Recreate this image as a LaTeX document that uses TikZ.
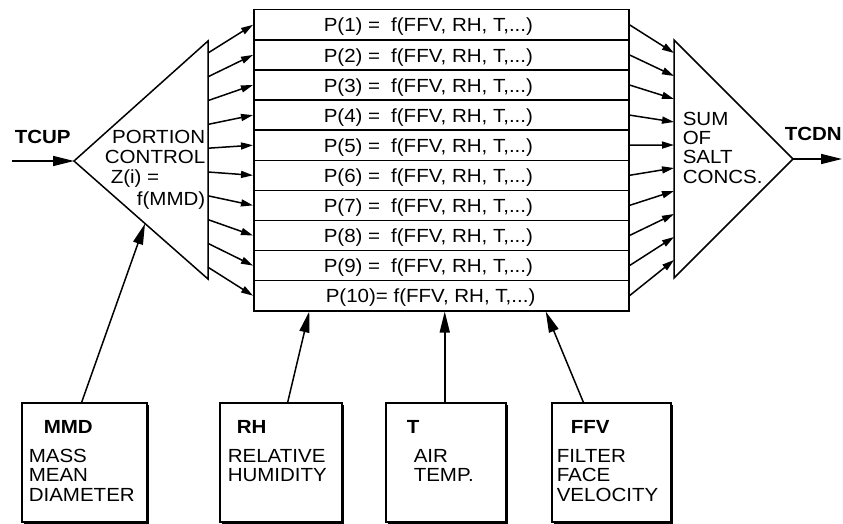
\documentclass[tikz,border=0pt]{standalone}
\usepackage{fontspec}
\setmainfont{Liberation Sans}[FakeStretch=1.08]
\usetikzlibrary{arrows.meta,calc,shadows}
\begin{document}
\begin{tikzpicture}[x=1pt,y=-1pt,line width=1.5pt,line join=miter,
  bigarrow/.style={-{Triangle[length=21pt,width=10pt]}},
  smallarrow/.style={-{Triangle[length=12pt,width=7pt]}},
  rowbox/.style={draw,minimum width=375pt,minimum height=30.1pt,inner sep=0pt,anchor=north west},
  lbl/.style={font=\fontsize{19}{20}\selectfont,inner sep=0pt},
  blbl/.style={font=\fontsize{19}{20}\selectfont\bfseries,inner sep=0pt},
  inbox/.style={draw,fill=white,minimum height=119pt,inner sep=0pt,anchor=north west,
    drop shadow={shadow xshift=2.5pt,shadow yshift=-2.5pt,fill=black,opacity=1}}]
\useasboundingbox (0,0) rectangle (843,524);

% central stack of rows
\foreach \i in {1,...,10}{
  \pgfmathsetmacro\yy{9+30.1*(\i-1)}
  \node[rowbox] (r\i) at (253,\yy) {};
}
\foreach \i in {1,...,9}{
  \pgfmathsetmacro\yb{9+23+30.1*(\i-1)}
  \node[lbl,anchor=base west] (p\i) at (323,\yb) {P(\i) =\hspace{11pt}f(FFV, RH, T,...)};
}
\node[lbl,anchor=base west] (p10) at (325,{9+23+30.1*9}) {P(10)= f(FFV, RH, T,...)};

% left triangle
\coordinate (la) at (74,161);
\coordinate (lt) at (208,41);
\coordinate (lb) at (208,279);
\draw (la) -- (lt) -- (lb) -- cycle;
\node[lbl,anchor=base east] (lp1) at (206,143) {PORTION};
\node[lbl,anchor=base east] (lp2) at (206,163) {CONTROL};
\node[lbl,anchor=base west] (lp3) at (110,183) {Z(i) =};
\node[lbl,anchor=base east] (lp4) at (206,205) {f(MMD)};

% right triangle
\coordinate (rt) at (674,40);
\coordinate (rb) at (674,278);
\coordinate (ra) at (793,159);
\draw (rt) -- (ra) -- (rb) -- cycle;
\node[lbl,anchor=base west] (rs1) at (682,126) {SUM};
\node[lbl,anchor=base west] (rs2) at (682,145) {OF};
\node[lbl,anchor=base west] (rs3) at (682,164) {SALT};
\node[lbl,anchor=base west] (rs4) at (682,183) {CONCS.};

% fan arrows
\foreach \i in {1,...,10}{
  \coordinate (ls\i) at (208,{53+23.8*(\i-1)});
  \draw[smallarrow] (ls\i) -- (r\i.west);
  \coordinate (re\i) at (674,{53+23*(\i-1)});
  \draw[smallarrow] (r\i.east) -- (re\i);
}

% TCUP / TCDN
\node[blbl,anchor=base west] (tcup) at (14,143) {TCUP};
\coordinate (tcupstart) at (12,161);
\draw[bigarrow] (tcupstart) -- (la);
\node[blbl,anchor=base west] (tcdn) at (784,140) {TCDN};
\coordinate (tcdnend) at (842,159);
\draw[bigarrow] (ra) -- (tcdnend);

% input boxes
\node[inbox,minimum width=125pt] (mmd) at (21,402) {};
\node[inbox,minimum width=122pt] (rh) at (219,402) {};
\node[inbox,minimum width=120pt] (tb) at (385,402) {};
\node[inbox,minimum width=119pt] (ffv) at (551,402) {};

\node[blbl,anchor=base west] (mmdh) at (43,433) {MMD};
\node[lbl,anchor=base west] (mmd1) at (28,462) {MASS};
\node[lbl,anchor=base west] (mmd2) at (28,481) {MEAN};
\node[lbl,anchor=base west] (mmd3) at (28,501) {DIAMETER};

\node[blbl,anchor=base west] (rhh) at (236,433) {RH};
\node[lbl,anchor=base west] (rh1) at (227,462) {RELATIVE};
\node[lbl,anchor=base west] (rh2) at (227,481) {HUMIDITY};

\node[blbl,anchor=base west] (tbh) at (406,433) {T};
\node[lbl,anchor=base west] (tb1) at (413,462) {AIR};
\node[lbl,anchor=base west] (tb2) at (413,481) {TEMP.};

\node[blbl,anchor=base west] (ffvh) at (570,433) {FFV};
\node[lbl,anchor=base west] (ffv1) at (556,462) {FILTER};
\node[lbl,anchor=base west] (ffv2) at (556,481) {FACE};
\node[lbl,anchor=base west] (ffv3) at (556,501) {VELOCITY};

% input arrows
\coordinate (lm) at ($(la)!0.53!(lb)$);
\draw[bigarrow] ([xshift=-2.5pt]mmd.north) -- (lm);
\draw[bigarrow] ([xshift=7pt]rh.north) -- ([xshift=-132pt]r10.south);
\draw[bigarrow] ([xshift=-1pt]tb.north) -- ([xshift=3.5pt]r10.south);
\draw[bigarrow] ([xshift=-28pt]ffv.north) -- ([xshift=104.5pt]r10.south);
\end{tikzpicture}
\end{document}
